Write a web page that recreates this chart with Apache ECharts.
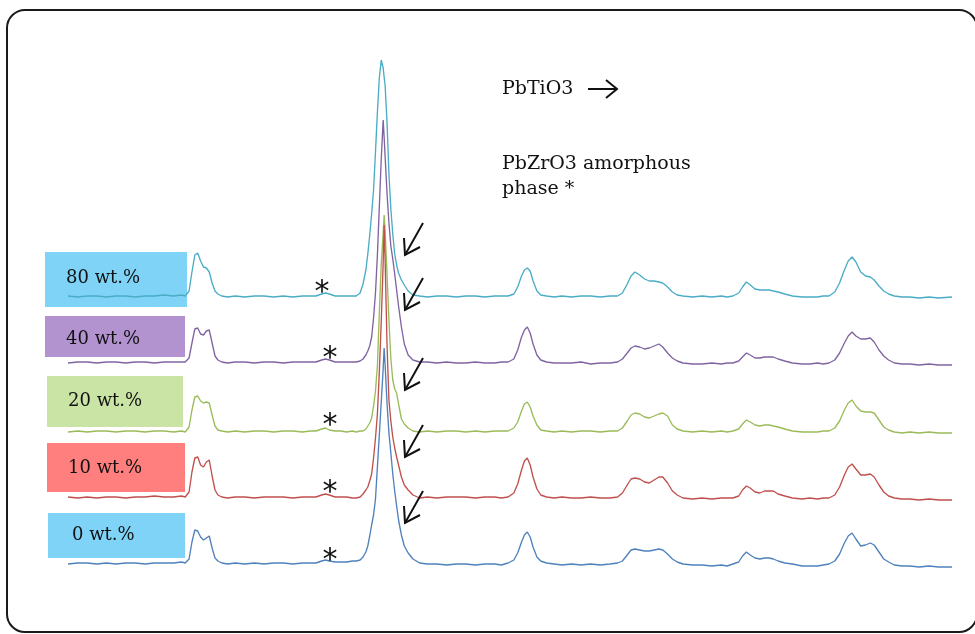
<!DOCTYPE html>
<html><head><meta charset="utf-8">
<script src="https://cdn.jsdelivr.net/npm/echarts@6/dist/echarts.min.js"></script>
<style>html,body{margin:0;padding:0;background:#fff}#c{width:975px;height:634px}</style>
</head><body><div id="c"></div>
<script>
// 2θ grid (degrees) shared by all traces
const twoTheta = [
15.0,15.5,16.0,16.5,17.0,17.5,18.0,18.5,19.0,19.5,20.0,20.5,20.9,
21.1,21.3,21.45,21.6,21.75,21.9,22.05,22.2,22.35,22.5,22.65,22.8,23.0,23.3,
23.7,24.2,24.7,25.2,25.7,26.2,26.7,27.2,27.6,
27.9,28.2,28.4,28.6,28.9,
29.2,29.5,29.8,
30.0,30.2,30.35,30.5,30.6,30.7,30.8,30.9,31.0,31.1,31.2,31.3,31.4,31.45,31.5,31.6,31.7,31.8,31.9,32.0,32.1,32.2,32.35,32.5,32.7,32.95,33.3,
33.7,34.2,34.7,35.2,35.7,36.2,36.7,37.2,37.55,
37.9,38.2,38.4,38.6,38.75,38.9,39.05,39.2,39.4,39.6,39.9,40.3,
40.7,41.2,41.7,42.2,42.7,43.2,
43.6,43.85,44.1,44.3,44.5,44.75,45.0,45.25,45.5,45.75,45.95,46.2,46.45,46.7,47.0,47.5,
48.0,48.5,49.0,49.3,
49.6,49.9,50.1,50.3,50.5,50.75,51.0,51.25,51.5,51.7,51.95,52.3,52.7,53.2,
53.6,54.0,54.3,
54.6,54.9,55.15,55.4,55.6,55.8,56.0,56.25,56.5,56.75,56.95,57.2,57.45,57.7,58.0,58.4,
58.8,59.3,59.8,60.3,61.0
];

const sampleLabels = ['80 wt.%', '40 wt.%', '20 wt.%', '10 wt.%', '0 wt.%'];
const stackOffsets = [303, 237, 168, 102, 36];

// intensities (arb. units)
const intensity80 = [
1,0,1,1,0,1,1,0,1,1,2,1,2,
1,6,25,42,44,36,30,29,25,14,6,3,1,0,
1,0,1,1,0,1,0,1,1,
1,3,4,3,1,
1,1,1,
1,4,13,27,43,62,83,107,145,185,219,237,229,220,212,175,123,88,63,43,32,24,17,12,6,2,1,
0,1,1,0,1,1,0,1,1,
1,3,10,21,27,29,26,16,6,2,1,0,
1,0,1,1,0,1,
1,4,13,21,25,22,18,16,16,15,14,10,5,2,1,0,
1,0,1,0,
1,4,10,15,12,8,7,7,7,6,5,3,1,0,
0,0,1,
1,5,14,27,36,40,35,25,21,20,17,11,6,3,1,0,
0,-1,0,-1,0
];
const intensity40 = [
0,1,1,0,1,1,0,1,1,0,1,1,1,
1,5,20,34,35,29,28,32,33,20,7,3,1,0,
1,1,0,1,1,0,1,1,1,
1,3,4,3,1,
1,1,1,
1,2,4,8,12,17,26,45,70,108,156,204,243,226,207,170,140,117,104,89,73,57,36,19,8,3,1,
1,0,1,0,0,1,0,0,1,
1,4,13,26,33,36,30,19,8,3,1,0,
0,0,1,-1,0,0,
1,4,10,15,17,16,14,15,17,19,16,10,5,2,0,-1,
-1,0,-1,0,
0,2,6,10,8,5,5,6,6,6,4,2,0,-1,
-1,0,-1,
0,3,10,20,27,31,27,24,24,25,21,13,7,3,0,-1,
-1,-2,-1,-2,-2
];
const intensity20 = [
0,1,0,1,1,0,1,1,0,1,1,0,1,
0,5,22,35,36,31,29,30,29,17,6,2,1,0,
1,0,1,1,0,1,1,0,1,
1,3,4,2,1,
1,0,1,
0,1,1,3,5,9,14,26,41,66,119,168,199,217,203,158,112,73,52,43,39,28,13,8,4,1,0,
1,0,1,1,0,1,0,1,1,
1,4,10,21,28,30,25,16,7,2,1,0,
1,0,1,1,0,1,
1,4,11,17,19,18,15,14,16,18,19,16,7,3,1,0,
1,0,1,0,
1,3,8,12,10,7,6,7,7,6,5,3,1,0,
0,0,1,
1,4,11,22,29,32,26,21,20,20,19,12,5,2,0,-1,
0,-1,0,-1,-1
];
const intensity10 = [
1,0,1,0,1,1,0,1,1,2,1,1,2,
1,6,26,40,41,33,31,36,38,22,8,3,1,0,
1,1,0,1,1,1,0,1,1,
1,3,4,3,1,
1,1,0,
0,1,4,8,11,17,24,40,60,84,126,176,235,273,239,154,98,77,61,50,41,33,21,13,8,3,0,
1,0,1,1,1,0,1,1,0,
1,5,14,28,37,40,33,21,9,3,1,0,
1,0,0,1,0,0,
1,5,13,19,20,19,16,15,18,21,21,15,7,3,0,-1,
0,-1,0,0,
0,2,8,12,10,6,5,7,7,7,4,2,0,-1,
0,-1,0,
0,3,11,23,31,34,29,23,23,24,21,13,6,2,0,-1,
-1,-2,-1,-2,-2
];
const intensity0 = [
0,1,1,0,1,0,1,1,0,1,1,1,2,
1,5,22,34,33,27,24,26,28,16,6,3,1,0,
1,0,1,0,1,1,0,1,1,
1,3,4,3,2,
2,2,3,
3,4,7,12,18,28,39,49,65,97,129,162,195,216,200,161,131,111,90,73,58,44,29,18,11,5,1,
0,0,-1,0,0,-1,0,0,-1,
1,4,11,22,29,32,27,17,7,3,1,0,
-1,0,-1,0,-1,0,
1,3,9,14,15,14,13,13,14,15,14,10,5,2,0,-1,
-1,-2,-1,-2,
0,2,8,12,9,6,5,6,6,5,3,1,0,-2,
-2,-2,-1,
0,3,10,21,28,31,25,18,19,21,19,12,5,2,-1,-2,
-2,-3,-2,-3,-3
];
const intensities = [intensity80, intensity40, intensity20, intensity10, intensity0];
const lineColors = ['#4BACC6', '#8064A2', '#9BBB59', '#C0504D', '#4F81BD'];
const boxColors = ['#7ED3F6', '#B293D0', '#CAE4A6', '#FF7E7E', '#7ED3F6'];

const chart = echarts.init(document.getElementById('c'), null, {renderer: 'canvas'});

const series = intensities.map((arr, k) => ({
  name: sampleLabels[k],
  type: 'line',
  showSymbol: false,
  symbol: 'none',
  z: 5,
  lineStyle: {color: lineColors[k], width: 1.35},
  data: twoTheta.map((x, i) => [x, stackOffsets[k] + arr[i]])
}));

// annotation geometry
const boxRects = [[45,252,142,55],[45,316,140,41],[47,376,136,51],[47,443,138,49],[48,513,137,45]];
const labelPos = [[66,278],[66,339],[68,401],[68,468],[72,535]];
const arrowTips = [[405,255],[405,310],[405,390],[405,457],[405,523]];
const starPos = [[322,287],[330,353],[330,420],[330,487],[330,555]];

const graphic = [];
graphic.push({type:'rect', z:0, shape:{x:7,y:10,width:970,height:622,r:18}, style:{fill:'none', stroke:'#1a1a1a', lineWidth:2}});
boxRects.forEach((b,k)=>{
  graphic.push({type:'rect', z:1, shape:{x:b[0],y:b[1],width:b[2],height:b[3]}, style:{fill:boxColors[k]}});
  graphic.push({type:'text', z:2, style:{text:sampleLabels[k], x:labelPos[k][0], y:labelPos[k][1], font:'18px "DejaVu Serif"', fill:'#111', textAlign:'left', textVerticalAlign:'middle'}});
});
arrowTips.forEach(t=>{
  const [x,y]=t;
  graphic.push({type:'polyline', z:6, shape:{points:[[x+18,y-32],[x,y]]}, style:{stroke:'#111', lineWidth:2, fill:null}});
  graphic.push({type:'polyline', z:6, shape:{points:[[x-1,y-17],[x,y],[x+15,y-8]]}, style:{stroke:'#111', lineWidth:2, fill:null}});
});
starPos.forEach(p=>{
  graphic.push({type:'text', z:6, style:{text:'*', x:p[0], y:p[1]+6, font:'30px "DejaVu Sans"', fill:'#111', textAlign:'center', textVerticalAlign:'middle'}});
});
graphic.push({type:'text', z:6, style:{text:'PbTiO3', x:502, y:89, font:'19px "DejaVu Serif"', fill:'#111', textAlign:'left', textVerticalAlign:'middle'}});
graphic.push({type:'polyline', z:6, shape:{points:[[588,89],[617,89]]}, style:{stroke:'#111', lineWidth:2, fill:null}});
graphic.push({type:'polyline', z:6, shape:{points:[[606,80],[617,89],[606,98]]}, style:{stroke:'#111', lineWidth:2, fill:null}});
graphic.push({type:'text', z:6, style:{text:'PbZrO3 amorphous', x:502, y:164, font:'19px "DejaVu Serif"', fill:'#111', textAlign:'left', textVerticalAlign:'middle'}});
graphic.push({type:'text', z:6, style:{text:'phase *', x:502, y:189, font:'19px "DejaVu Serif"', fill:'#111', textAlign:'left', textVerticalAlign:'middle'}});

chart.setOption({
  animation: false,
  backgroundColor: '#fff',
  grid: {left: 68, right: 23, top: 40, bottom: 34},
  xAxis: {type: 'value', min: 15, max: 61, show: false},
  yAxis: {type: 'value', min: 0, max: 560, show: false},
  series: series,
  graphic: graphic
});
</script></body></html>
